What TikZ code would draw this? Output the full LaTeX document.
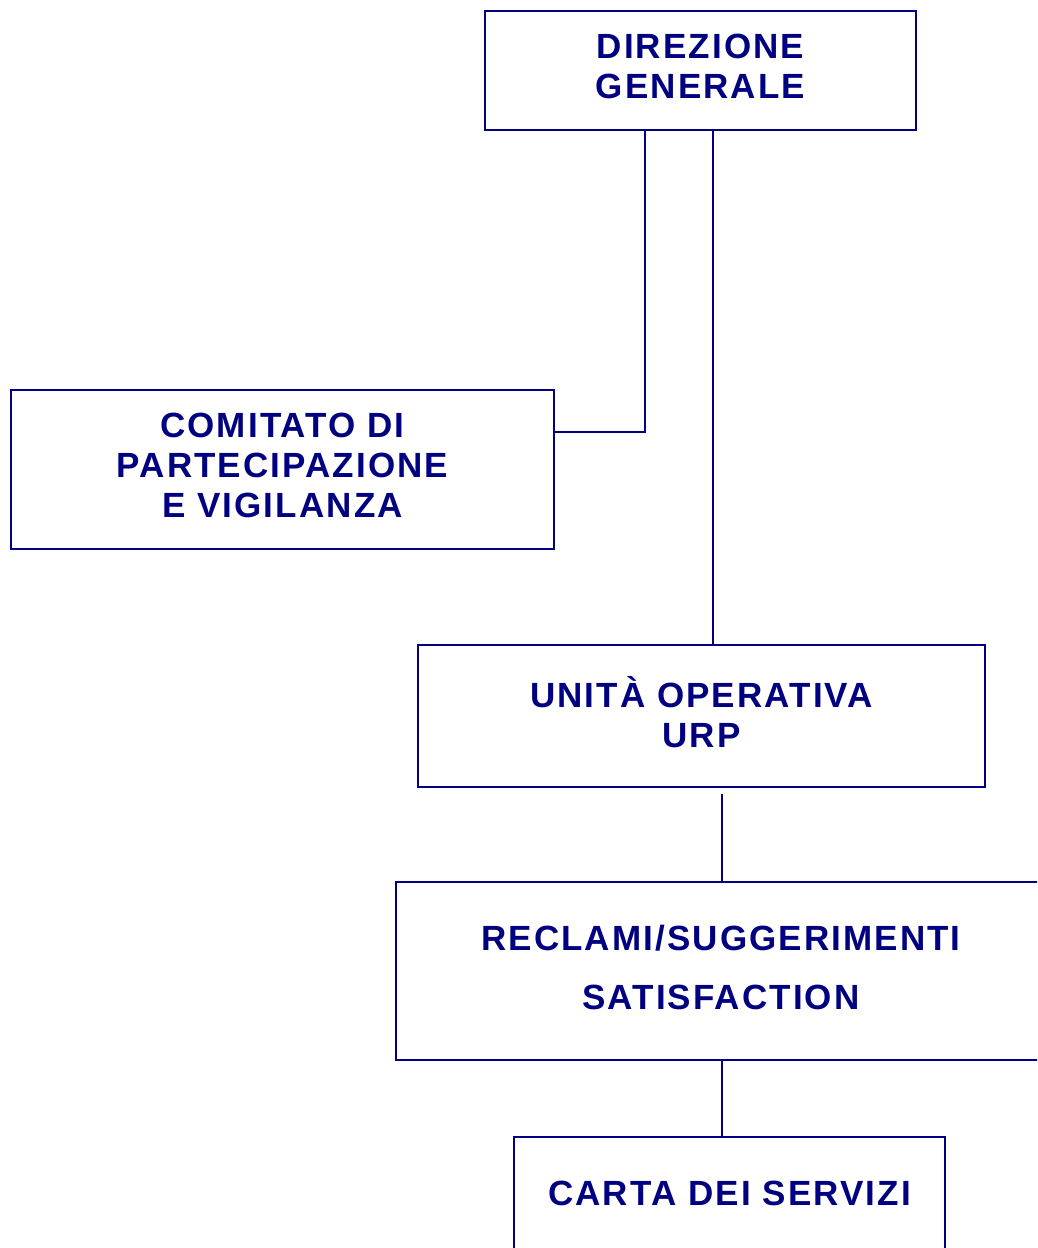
\documentclass[tikz,border=0pt]{standalone}
\usepackage{fontspec}
\usepackage{tikz}
\newfontfamily\orgfont{Liberation Sans}[LetterSpace=6]
\definecolor{navy}{RGB}{0,0,128}

\begin{document}
\begin{tikzpicture}[x = 1pt, y = -1pt,
    box/.style = {draw=navy, line width=2.4pt, text=navy, align=center, text depth=8pt,
      font=\orgfont\bfseries\fontsize{35}{40}\selectfont},
    link/.style = {draw=navy, line width=2.2pt}]
        \useasboundingbox (0,0) rectangle (1037,1248);
        \clip (0,0) rectangle (1037,1248);
        \node[box, minimum width=431pt, minimum height=119pt] (dg) at (700.5,70.5) {DIREZIONE\\GENERALE};
        \node[box, minimum width=543pt, minimum height=159pt] (cpv) at (282.5,469.5) {COMITATO DI\\PARTECIPAZIONE\\E VIGILANZA};
        \node[box, minimum width=567pt, minimum height=142pt] (urp) at (701.5,716) {UNITÀ OPERATIVA\\URP};
        \node[box, minimum width=650pt, minimum height=178pt] (rs) at (721,971) {RECLAMI/SUGGERIMENTI\\[19pt]SATISFACTION};
        \node[box, minimum width=431pt, minimum height=124pt, text depth=12pt] (cs) at (729.5,1199) {CARTA DEI SERVIZI};
        \coordinate (k1) at (645,432);
        \coordinate (k2) at (713,0);
        \coordinate (k3) at (722,0);
        \draw[link] (dg.south -| k1) -- (k1) -- (k1 -| cpv.east);
        \draw[link] (dg.south -| k2) -- (urp.north -| k2);
        \draw[link] ([yshift=-6pt]urp.south -| k3) -- (rs.north -| k3);
        \draw[link] (rs.south -| k3) -- (cs.north -| k3);
      \end{tikzpicture}
\end{document}
